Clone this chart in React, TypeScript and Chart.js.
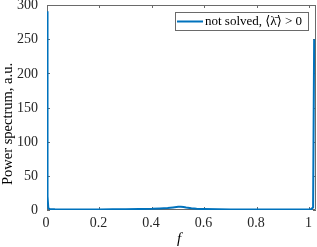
import React, { useEffect, useRef } from "react";
import { Chart, registerables } from "chart.js";

Chart.register(...registerables);

const freq = [0, 0.002, 0.005, 0.01, 0.03, 0.06, 0.1, 0.15, 0.2, 0.25, 0.3, 0.35, 0.4, 0.43, 0.46, 0.48, 0.5, 0.51, 0.52, 0.53, 0.55, 0.57, 0.6, 0.65, 0.7, 0.75, 0.8, 0.85, 0.9, 0.95, 1.0, 1.008, 1.014, 1.018];
const power = [291, 20, 3, 1.5, 1.0, 0.8, 0.7, 0.8, 0.9, 1.0, 1.2, 1.4, 1.8, 2.3, 3.0, 3.8, 4.6, 4.8, 4.4, 3.6, 2.4, 1.7, 1.3, 1.0, 0.9, 0.8, 0.8, 0.7, 0.7, 0.8, 1.0, 1.5, 4, 250];
const xTicks = [0, 0.2, 0.4, 0.6, 0.8, 1];
const yTicks = [0, 50, 100, 150, 200, 250, 300];
const seriesLabel = "not solved, ⟨λ̄⟩ > 0";
const yTitle = "Power spectrum, a.u.";
const xTitle = "f";

const FONT = "'Liberation Serif', 'DejaVu Serif', serif";
const LINE = "rgb(0,114,189)";
const AXIS = "#6a6a6a";

const boxPlugin = {
  id: "matlabBox",
  beforeDatasetsDraw(chart: any) {
    const { ctx, chartArea: a, scales } = chart;
    ctx.save();
    ctx.strokeStyle = AXIS;
    ctx.lineWidth = 1;
    ctx.beginPath();
    ctx.rect(Math.round(a.left) + 0.5, Math.round(a.top) + 0.5, Math.round(a.right - a.left) - 1, Math.round(a.bottom - a.top) - 1);
    ctx.stroke();
    const tl = 3;
    ctx.beginPath();
    for (const v of xTicks) {
      const x = Math.round(scales.x.getPixelForValue(v)) + 0.5;
      ctx.moveTo(x, a.bottom);
      ctx.lineTo(x, a.bottom - tl);
      ctx.moveTo(x, a.top);
      ctx.lineTo(x, a.top + tl);
    }
    for (const v of yTicks) {
      const y = Math.round(scales.y.getPixelForValue(v)) + 0.5;
      ctx.moveTo(a.left, y);
      ctx.lineTo(a.left + tl, y);
      ctx.moveTo(a.right, y);
      ctx.lineTo(a.right - tl, y);
    }
    ctx.stroke();

    // tick labels
    ctx.fillStyle = "#262626";
    ctx.font = `14px ${FONT}`;
    ctx.textBaseline = "middle";
    ctx.textAlign = "right";
    for (const v of yTicks) {
      ctx.fillText(String(v), a.left - 9, scales.y.getPixelForValue(v) + 0.5);
    }
    ctx.textAlign = "center";
    for (const v of xTicks) {
      ctx.fillText(String(v), scales.x.getPixelForValue(v) - 1, a.bottom + 13);
    }
    ctx.restore();
  },
  afterDraw(chart: any) {
    const { ctx } = chart;
    ctx.save();
    // legend
    const lx = 175.5, ly = 12.5, lw = 133, lh = 18;
    ctx.fillStyle = "#fff";
    ctx.fillRect(lx, ly, lw, lh);
    ctx.strokeStyle = AXIS;
    ctx.lineWidth = 1;
    ctx.strokeRect(lx, ly, lw, lh);
    ctx.strokeStyle = LINE;
    ctx.lineWidth = 2;
    ctx.beginPath();
    ctx.moveTo(177, 21.5);
    ctx.lineTo(203, 21.5);
    ctx.stroke();
    ctx.fillStyle = "#000";
    ctx.font = `13px ${FONT}`;
    ctx.textBaseline = "middle";
    ctx.textAlign = "left";
    ctx.fillText(chart.data.datasets[0].label, 205, 22);

    // x title
    ctx.font = `italic 15px ${FONT}`;
    ctx.textAlign = "center";
    ctx.fillStyle = "#000";
    ctx.fillText(xTitle, 179, 239);
    // y title
    ctx.translate(8, 124);
    ctx.rotate(-Math.PI / 2);
    ctx.font = `14.5px ${FONT}`;
    ctx.fillText(yTitle, 0, 0);
    ctx.restore();
  },
};

export default function App() {
  const ref = useRef<HTMLCanvasElement>(null);
  useEffect(() => {
    if (!ref.current) return;
    const chart = new Chart(ref.current, {
      type: "line",
      data: {
        datasets: [
          {
            label: seriesLabel,
            data: freq.map((f, i) => ({ x: f, y: power[i] })),
            borderColor: LINE,
            borderWidth: 2,
            pointRadius: 0,
            tension: 0,
            fill: false,
          },
        ],
      },
      options: {
        animation: false,
        responsive: false,
        devicePixelRatio: 1,
        layout: { padding: { left: 0, right: 1, top: 5, bottom: 0 } },
        plugins: { legend: { display: false }, tooltip: { enabled: false } },
        scales: {
          x: {
            type: "linear",
            min: 0,
            max: 1.025,
            grid: { display: false },
            border: { display: false },
            ticks: { display: false },
            afterFit: (s: any) => {
              s.height = 37;
            },
          },
          y: {
            min: 0,
            max: 300,
            grid: { display: false },
            border: { display: false },
            ticks: { display: false },
            afterFit: (s: any) => {
              s.width = 47;
            },
          },
        },
      },
      plugins: [boxPlugin],
    });
    return () => chart.destroy();
  }, []);
  return (
    <div style={{ position: "fixed", left: 0, top: 0, width: 317, height: 247, background: "#fff" }}>
      <canvas ref={ref} width={317} height={247} style={{ width: 317, height: 247 }} />
    </div>
  );
}
